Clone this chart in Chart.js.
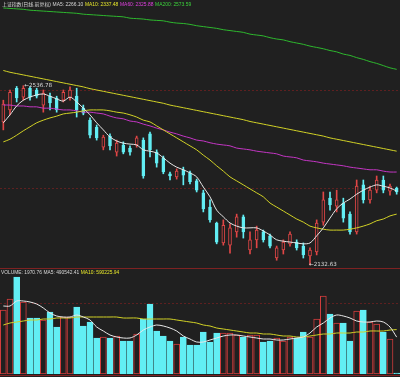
<!DOCTYPE html>
<html>
<head>
<meta charset="utf-8">
<script src="https://cdn.jsdelivr.net/npm/chart.js@4.4.0/dist/chart.umd.min.js"></script>
<style>
  body { margin: 0; background: #202020; width: 400px; height: 377px; overflow: hidden; position: relative;
         font-family: "Liberation Sans", "Noto Sans CJK SC", sans-serif; }
  canvas { position: absolute; left: 0; }
  #price { top: 0; }
  #vol { top: 276px; }
  .hdr { position: absolute; font-size: 9px; line-height: 10px; white-space: nowrap; color: #d8d8d8;
         transform-origin: 0 0; }
  .hdr span { margin-right: 3px; }
  .sep { position: absolute; left: 0; width: 400px; height: 1px; background: #7e2222; }
</style>
</head>
<body>
<canvas id="price" width="400" height="270"></canvas>
<canvas id="vol" width="400" height="98"></canvas>

<div class="hdr" id="topHdr" style="left:2px;top:2px" data-w="191"><span>上证指数(日线,前复权)</span><span>MA5: 2266.10</span><span style="color:#e6e62a">MA10: 2337.48</span><span style="color:#e040e0">MA60: 2325.88</span><span style="color:#3cd23c">MA200: 2573.59</span></div>

<div class="sep" style="top:268px"></div>
<div class="hdr" id="volHdr" style="left:1px;top:270px" data-w="120"><span>VOLUME: 1970.76</span><span>MA5: 490542.41</span><span style="color:#e6e62a">MA10: 590225.94</span></div>
<div class="sep" style="top:375px"></div>

<script>
// 上证指数 daily, 2011-11-01 .. 2012-02-01
const dates = [
  "11-01","11-02","11-03","11-04","11-07","11-08","11-09","11-10","11-11","11-14",
  "11-15","11-16","11-17","11-18","11-21","11-22","11-23","11-24","11-25","11-28",
  "11-29","11-30","12-01","12-02","12-05","12-06","12-07","12-08","12-09","12-12",
  "12-13","12-14","12-15","12-16","12-19","12-20","12-21","12-22","12-23","12-26",
  "12-27","12-28","12-29","12-30","01-04","01-05","01-06","01-09","01-10","01-11",
  "01-12","01-13","01-16","01-17","01-18","01-19","01-20","01-30","01-31","02-01"
];
const open = [2455,2482,2531,2511,2531,2527,2493,2513,2509,2504, 2509,2513,2486,2459,2443,2398,2423,2387,2403,2396,
              2403,2414,2428,2387,2374,2338,2331,2347,2340,2322, 2295,2263,2227,2182,2177,2207,2241,2166,2189,2207,
              2198,2148,2166,2180,2184,2175,2153,2162,2229,2283, 2265,2272,2247,2207,2313,2279,2301,2324,2299,2306];
const high = [2504,2527,2535,2536.78,2534,2531,2527,2520,2513,2527, 2534,2531,2493,2464,2448,2425,2428,2414,2410,2401,
              2423,2419,2432,2392,2378,2342,2349,2353,2344,2326, 2301,2279,2229,2234,2225,2247,2245,2207,2220,2211,
              2202,2175,2189,2207,2189,2182,2171,2234,2297,2297, 2301,2283,2252,2324,2324,2310,2333,2333,2315,2308];
const low = [2437,2471,2500,2504,2504,2509,2477,2482,2477,2500, 2504,2466,2471,2419,2414,2392,2392,2378,2383,2380,
             2398,2328,2376,2353,2338,2324,2326,2313,2315,2297, 2252,2229,2180,2177,2159,2195,2193,2157,2171,2184,
             2171,2143,2157,2175,2166,2148,2132.63,2155,2222,2256, 2252,2229,2202,2202,2272,2272,2295,2295,2290,2292];
const close = [2495,2522,2509,2531,2511,2513,2520,2498,2482,2522, 2527,2482,2475,2425,2419,2421,2401,2407,2387,2387,
               2419,2333,2392,2362,2342,2333,2344,2335,2320,2301, 2259,2234,2184,2222,2216,2241,2207,2189,2211,2189,
               2175,2171,2184,2202,2171,2155,2166,2227,2279,2268, 2279,2238,2207,2310,2279,2301,2324,2301,2310,2297];

const ma5 = [2453,2471,2491,2504,2511,2516,2518,2513,2507,2502, 2511,2500,2486,2471,2453,2437,2421,2412,2407,2405,
             2403,2392,2389,2385,2374,2362,2353,2347,2340,2331, 2308,2286,2256,2241,2227,2220,2216,2216,2216,2209,
             2200,2189,2186,2184,2182,2180,2182,2198,2216,2238, 2259,2272,2281,2292,2301,2308,2313,2310,2306,2299];
const ma10 = [2410,2416,2425,2435,2444,2453,2459,2464,2468,2473, 2475,2477,2480,2482,2482,2482,2480,2477,2475,2471,
              2466,2459,2455,2446,2437,2428,2419,2410,2401,2392, 2380,2369,2356,2344,2331,2322,2313,2304,2295,2286,
              2272,2263,2254,2245,2236,2229,2220,2216,2213,2211, 2211,2211,2213,2216,2220,2225,2232,2236,2243,2247];
const ma60 = [2493,2493,2491,2491,2489,2489,2486,2486,2484,2482, 2482,2480,2477,2477,2475,2473,2468,2464,2462,2457,
              2455,2450,2446,2441,2437,2432,2428,2423,2419,2414, 2412,2408,2405,2403,2401,2396,2394,2392,2389,2387,
              2385,2383,2378,2376,2374,2369,2367,2365,2362,2360, 2358,2356,2353,2351,2349,2347,2347,2344,2342,2342];
const ma120 = [2571,2567,2564,2561,2558,2555,2552,2549,2546,2543, 2540,2537,2534,2530,2527,2524,2521,2518,2515,2512,
               2509,2506,2503,2500,2497,2493,2490,2487,2484,2481, 2478,2475,2472,2469,2466,2463,2460,2456,2453,2450,
               2447,2444,2441,2438,2435,2432,2429,2426,2423,2419, 2416,2413,2410,2407,2404,2401,2398,2395,2392,2389];
const ma200 = [2712,2711,2710,2709,2707,2706,2705,2704,2703,2702, 2701,2700,2698,2697,2696,2695,2694,2693,2692,2689,
               2688,2687,2685,2684,2683,2680,2678,2677,2675,2672, 2670,2668,2666,2663,2661,2659,2657,2653,2651,2649,
               2645,2642,2640,2636,2633,2630,2626,2623,2620,2616, 2613,2608,2605,2600,2596,2591,2587,2582,2577,2573.59];

const volume = [851200,997500,1290000,957600,744800,744800,718200,824600,625100,758100,
                758100,891100,638400,691600,478800,492100,478800,505400,438900,438900,
                532000,731500,931000,571900,505400,438900,399000,492100,385700,385700,
                558600,425600,545300,545300,545300,518700,492100,518700,518700,425600,
                438900,478800,438900,492100,478800,558600,492100,731500,1037400,798000,
                678300,678300,438900,837900,851200,691600,665000,558600,465500,13000];
const volMa5 = [904400,904400,970900,970900,957600,931000,877800,811300,771400,758100,
                758100,784700,758100,718200,625100,571900,518700,492100,478800,478800,
                518700,585200,625100,651700,638400,611800,571900,505400,465500,425600,
                425600,452200,478800,505400,518700,518700,505400,492100,478800,465500,
                465500,452200,452200,465500,478800,492100,545300,625100,678300,744800,
                784700,771400,744800,704900,691600,691600,704900,691600,625100,490542];
const volMa10 = [651700,678300,691600,704900,718200,718200,731500,731500,744800,744800,
                 744800,758100,758100,758100,758100,758100,758100,758100,744800,744800,
                 744800,731500,731500,731500,731500,731500,718200,704900,691600,678300,
                 651700,638400,611800,598500,585200,571900,558600,545300,545300,532000,
                 532000,518700,505400,505400,492100,492100,505400,518700,532000,532000,
                 545300,545300,545300,558600,558600,571900,571900,571900,585200,590226];

const priceGrid = [2527, 2306];
const volGrid = [944000];

const BG = "#202020", RED = "#e04646", CYAN = "#62eef4";
const up = close.map((c, i) => c > open[i]);

// shrink the tiny header lines to the width they take in the terminal screenshot
document.querySelectorAll(".hdr").forEach(el => {
    const s = Number(el.dataset.w) / el.scrollWidth;
    el.style.transform = "scale(" + s + ")";
});

const guideLines = {
    id: "guideLines",
    beforeDatasetsDraw(chart, args, opts) {
        const { ctx, chartArea, scales } = chart;
        ctx.save();
        ctx.strokeStyle = "#5e2020";
        ctx.lineWidth = 1;
        ctx.setLineDash([2, 2]);
        (opts.values || []).forEach(v => {
            const y = Math.round(scales.y.getPixelForValue(v)) + 0.5;
            ctx.beginPath();
            ctx.moveTo(chartArea.left, y);
            ctx.lineTo(chartArea.right, y);
            ctx.stroke();
        });
        ctx.restore();
    }
};

// high / low markers
const extremes = {
    id: "extremes",
    afterDatasetsDraw(chart) {
        if (!chart.options.plugins.extremes) return;
        const { ctx, scales } = chart;
        const hi = high.indexOf(Math.max(...high));
        const lo = low.indexOf(Math.min(...low));
        ctx.save();
        ctx.font = "5.6px 'DejaVu Sans'";
        ctx.fillStyle = "#dcdcdc";
        ctx.textBaseline = "middle";
        ctx.fillText("\u2190" + high[hi].toFixed(2), scales.x.getPixelForValue(hi) + 1, scales.y.getPixelForValue(high[hi]));
        ctx.fillText("\u2190" + low[lo].toFixed(2), scales.x.getPixelForValue(lo) - 1, scales.y.getPixelForValue(low[lo]));
        ctx.restore();
    }
};

function maLine(data, color) {
    return { type: "line", data: data, borderColor: color, borderWidth: 1, pointRadius: 0, tension: 0.3, order: 0 };
}

new Chart(document.getElementById("price"), {
    type: "bar",
    data: {
        labels: dates,
        datasets: [
            maLine(ma5, "#e8e8e8"),
            maLine(ma10, "#d2d226"),
            maLine(ma60, "#c436c4"),
            maLine(ma120, "#d2d226"),
            maLine(ma200, "#2eb82e"),
            {
                data: open.map((o, i) => [o, close[i]]),
                backgroundColor: up.map(u => u ? BG : CYAN),
                borderColor: up.map(u => u ? RED : CYAN),
                borderWidth: 1, borderSkipped: false, barThickness: 3, grouped: false, order: 1
            },
            {
                data: low.map((l, i) => [l, high[i]]),
                backgroundColor: up.map(u => u ? RED : CYAN),
                barThickness: 1, grouped: false, order: 2
            }
        ]
    },
    options: {
        responsive: false, animation: false, devicePixelRatio: 1,
        layout: { padding: { left: 0, right: 0, top: 0, bottom: 4 } },
        plugins: { legend: { display: false }, tooltip: { enabled: false },
                   guideLines: { values: priceGrid }, extremes: true },
        scales: { x: { display: false }, y: { display: false, min: 2130, max: 2730 } }
    },
    plugins: [guideLines, extremes]
});

new Chart(document.getElementById("vol"), {
    type: "bar",
    data: {
        labels: dates,
        datasets: [
            maLine(volMa5, "#e8e8e8"),
            maLine(volMa10, "#d2d226"),
            {
                data: volume,
                backgroundColor: up.map(u => u ? BG : CYAN),
                borderColor: up.map(u => u ? "#d23c3c" : CYAN),
                borderWidth: 1, borderSkipped: false, barThickness: 6, order: 1
            }
        ]
    },
    options: {
        responsive: false, animation: false, devicePixelRatio: 1,
        layout: { padding: 0 },
        plugins: { legend: { display: false }, tooltip: { enabled: false },
                   guideLines: { values: volGrid } },
        scales: { x: { display: false }, y: { display: false, min: 0, max: 1303400 } }
    },
    plugins: [guideLines]
});
</script>
</body>
</html>
